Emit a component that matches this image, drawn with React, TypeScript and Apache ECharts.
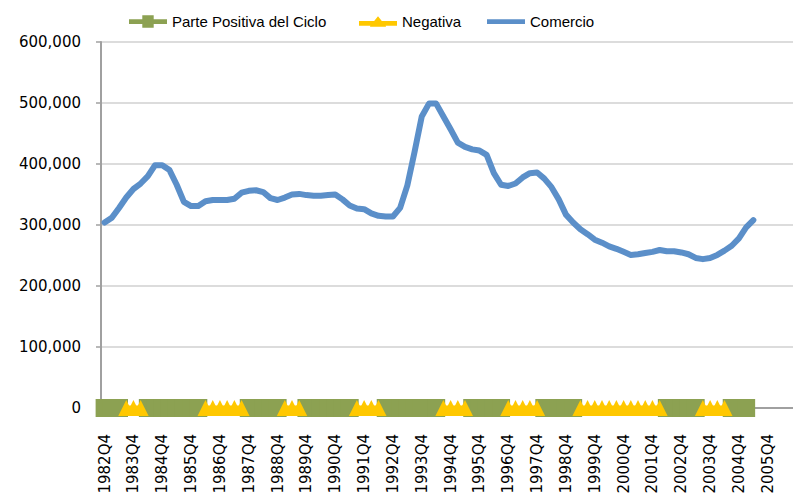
import React, { useEffect, useRef } from "react";
import * as echarts from "echarts";

// Quarterly categories from 1982Q4 (axis runs a bit past the data)
const startYear = 1982;
const startQuarter = 4;
const categoryCount = 96;
const categories: string[] = [];
for (let i = 0; i < categoryCount; i++) {
  const q0 = startQuarter - 1 + i;
  categories.push(`${startYear + Math.floor(q0 / 4)}Q${(q0 % 4) + 1}`);
}

// Comercio, from 1982Q4 to 2005Q2
const comercio = [
  304000, 312000, 328000, 345000, 359000, 368000, 380000, 398000, 398000, 390000,
  366000, 338000, 331000, 331000, 339000, 341000, 341000, 341000, 343000, 353000,
  356000, 357000, 354000, 344000, 341000, 345000, 350000, 351000, 349000, 348000,
  348000, 349000, 350000, 342000, 332000, 327000, 326000, 319000, 315000, 314000,
  314000, 328000, 365000, 420000, 478000, 499000, 499000, 478000, 457000, 435000,
  428000, 424000, 422000, 415000, 385000, 366000, 364000, 368000, 378000, 385000,
  386000, 376000, 362000, 342000, 317000, 304000, 293000, 285000, 276000, 271000,
  265000, 261000, 256000, 251000, 252000, 254000, 256000, 259000, 257000, 257000,
  255000, 252000, 246000, 244000, 246000, 251000, 258000, 266000, 278000, 296000,
  308000,
];

// Phases of the cycle (first and last quarter of each phase)
const positivePhases: [string, string][] = [
  ["1982Q4", "1983Q2"],
  ["1984Q2", "1986Q1"],
  ["1987Q4", "1988Q4"],
  ["1989Q4", "1991Q2"],
  ["1992Q3", "1994Q2"],
  ["1995Q3", "1996Q3"],
  ["1998Q1", "1999Q1"],
  ["2002Q2", "2003Q2"],
  ["2004Q3", "2005Q1"],
];
const negativePhases: [string, string][] = [
  ["1983Q3", "1984Q1"],
  ["1986Q2", "1987Q3"],
  ["1989Q1", "1989Q3"],
  ["1991Q3", "1992Q2"],
  ["1994Q3", "1995Q2"],
  ["1996Q4", "1997Q4"],
  ["1999Q2", "2002Q1"],
  ["2003Q3", "2004Q2"],
];
const phaseValue = 0;

const yTicks = { min: 0, max: 600000, interval: 100000 };

function phaseSeries(phases: [string, string][]) {
  const out: (number | null)[] = categories.map(() => null);
  phases.forEach(([a, b]) => {
    const s = categories.indexOf(a);
    const e = categories.indexOf(b);
    for (let i = s; i <= e; i++) out[i] = phaseValue;
  });
  return out;
}

const GREEN = "#8CA152";
const YELLOW = "#FFC800";
const BLUE = "#5B8FC9";
const AXIS = "#A0A0A0";

// legend icons (40 x 14 box): thick line with the marker in the middle
const ICON_SQUARE = "path://M0,4.5 H14 V0.5 H26 V4.5 H40 V9.5 H26 V13.5 H14 V9.5 H0 Z";
const ICON_TRIANGLE = "path://M0,6 H16 L20,1 L24,6 H40 V11 H28 L28.5,12 H11.5 L12,11 H0 Z";
const ICON_LINE = "path://M0,4.5 H40 V9.5 H0 Z";

export default function App() {
  const ref = useRef<HTMLDivElement>(null);
  useEffect(() => {
    if (!ref.current) return;
    const chart = echarts.init(ref.current, undefined, { renderer: "svg" });
    const legendText = { fontFamily: "Liberation Sans", fontSize: 15, color: "#000" };
    const legendBase = { top: 9, itemWidth: 38, itemHeight: 14, textStyle: legendText };
    chart.setOption({
      animation: false,
      backgroundColor: "#fff",
      legend: [
        { ...legendBase, left: 124, data: [{ name: "Parte Positiva del Ciclo", icon: ICON_SQUARE }] },
        { ...legendBase, left: 354, data: [{ name: "Negativa", icon: ICON_TRIANGLE }] },
        { ...legendBase, left: 482, data: [{ name: "Comercio", icon: ICON_LINE }] },
      ],
      grid: { left: 101, top: 42, bottom: 95, right: -7, containLabel: false },
      xAxis: {
        type: "category",
        data: categories,
        boundaryGap: true,
        axisLine: { lineStyle: { color: AXIS, width: 2 } },
        axisTick: { interval: 0, length: 5, lineStyle: { color: AXIS, width: 1.5 } },
        axisLabel: {
          interval: 3,
          rotate: 90,
          margin: 26,
          padding: [8, 0, 0, 0],
          fontFamily: "DejaVu Sans",
          fontSize: 15,
          color: "#000",
        },
        splitLine: { show: false },
      },
      yAxis: {
        type: "value",
        min: yTicks.min,
        max: yTicks.max,
        interval: yTicks.interval,
        axisLine: { show: true, lineStyle: { color: AXIS, width: 2 } },
        axisTick: { show: true, length: 5, lineStyle: { color: AXIS, width: 1.5 } },
        axisLabel: {
          margin: 20,
          fontFamily: "DejaVu Sans",
          fontSize: 15,
          color: "#000",
          formatter: (v: number) => v.toLocaleString("en-US"),
        },
        splitLine: { lineStyle: { color: "#DCDCDC", width: 2 } },
      },
      series: [
        {
          name: "Parte Positiva del Ciclo",
          type: "line",
          data: phaseSeries(positivePhases),
          symbol: "rect",
          symbolSize: 18,
          showSymbol: true,
          showAllSymbol: true,
          clip: false,
          lineStyle: { color: GREEN, width: 5 },
          itemStyle: { color: GREEN },
          z: 2,
        },
        {
          name: "Negativa",
          type: "line",
          data: phaseSeries(negativePhases),
          symbol: "triangle",
          symbolSize: 16,
          showSymbol: true,
          showAllSymbol: true,
          clip: false,
          lineStyle: { color: YELLOW, width: 5 },
          itemStyle: { color: YELLOW },
          z: 3,
        },
        {
          name: "Comercio",
          type: "line",
          data: comercio,
          showSymbol: false,
          symbol: "none",
          lineStyle: { color: BLUE, width: 6, cap: "round", join: "round" },
          itemStyle: { color: BLUE },
          z: 4,
        },
      ],
    });
    return () => chart.dispose();
  }, []);
  return (
    <div
      ref={ref}
      style={{ position: "fixed", left: 0, top: 0, width: 793, height: 503, background: "#fff" }}
    />
  );
}
